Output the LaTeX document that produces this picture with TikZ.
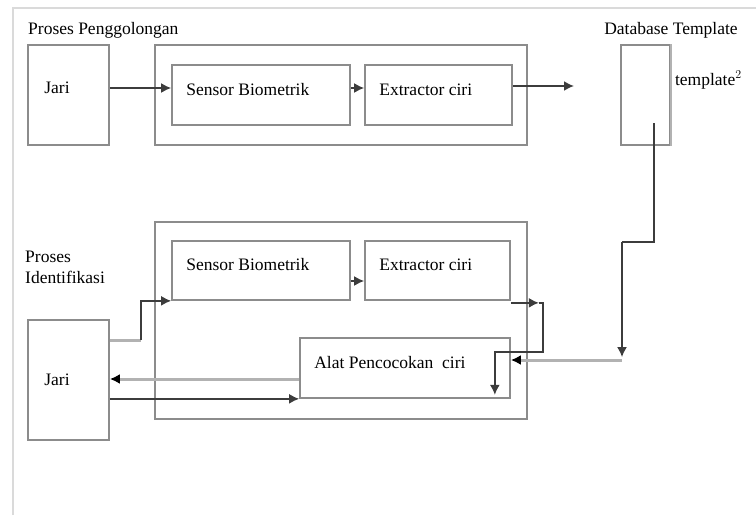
\documentclass[tikz,border=0pt]{standalone}
\usepackage{fontspec}
\setmainfont{Liberation Serif}
\usetikzlibrary{arrows.meta}
\definecolor{boxgray}{RGB}{140,140,140}
\definecolor{linedark}{RGB}{60,60,60}
\definecolor{linelight}{RGB}{178,178,178}
\definecolor{framegray}{RGB}{218,218,218}
\tikzset{
  blok/.style={draw=boxgray, line width=1.7pt, inner sep=0pt},
  tulisan/.style={anchor=west, inner sep=0pt, font=\fontsize{17.5}{21}\selectfont},
  darkarrow/.style={draw=linedark, line width=1.7pt, -{Latex[length=10pt,width=10pt]}},
  darkline/.style={draw=linedark, line width=1.7pt},
  lightarrow/.style={draw=linelight, line width=3pt, -{Latex[length=10pt,width=10pt,color=black]}},
  lightline/.style={draw=linelight, line width=3pt},
}
\begin{document}
\begin{tikzpicture}[x=1pt, y=-1pt, >=Latex]
  \useasboundingbox (0,0) rectangle (756,515);
  \draw[framegray, line width=1.2pt] (13,515) -- (13,8) -- (756,8);

  % proses penggolongan
  \node[tulisan] (judul1) at (28,30) {Proses Penggolongan};
  \node[blok, minimum width=81, minimum height=100] (jari1) at (68.5,95) {};
  \node[blok, minimum width=372, minimum height=100] (luar1) at (341,95) {};
  \node[blok, minimum width=178, minimum height=60] (sensor1) at (261,95) {};
  \node[blok, minimum width=147, minimum height=60] (ext1) at (438.5,95) {};
  \node[tulisan] (jari1t) at ([xshift=17pt,yshift=7pt]jari1.west) {Jari};
  \node[tulisan] (sensor1t) at ([xshift=15pt,yshift=5pt]sensor1.west) {Sensor Biometrik};
  \node[tulisan] (ext1t) at ([xshift=15pt,yshift=5pt]ext1.west) {Extractor ciri};

  % database
  \node[tulisan, anchor=center] (judul3) at (671,30) {Database Template};
  \node[blok, minimum width=49, minimum height=100] (db) at (645.5,95) {};
  \draw[linelight, line width=1.7pt] (db.north east) -- (db.south east);
  \node[tulisan] (dbt) at ([xshift=4pt,yshift=15pt]db.east) {template$^2$};
  \coordinate (dbin) at (574,86);
  \coordinate (dbsrc) at (654,123);
  \coordinate (dbbend) at (622,242);
  \coordinate (dbdown) at (622,357);
  \coordinate (dbout) at (622,360);

  \draw[darkarrow] ([yshift=7pt]jari1.east) -- ([yshift=7pt]sensor1.west);
  \draw[darkarrow] ([yshift=7pt]sensor1.east) -- ([yshift=7pt]ext1.west);
  \draw[darkarrow] ([yshift=9pt]ext1.east) -- (dbin);

  % proses identifikasi
  \node[tulisan, align=left] (judul2) at (25,267) {Proses\\Identifikasi};
  \node[blok, minimum width=81, minimum height=120] (jari2) at (68.5,380) {};
  \node[blok, minimum width=372, minimum height=197] (luar2) at (341,320.5) {};
  \node[blok, minimum width=178, minimum height=59] (sensor2) at (261,270.5) {};
  \node[blok, minimum width=145, minimum height=59] (ext2) at (437.5,270.5) {};
  \node[blok, minimum width=210, minimum height=60] (alat) at (405,368) {};
  \node[tulisan] (jari2t) at ([xshift=17pt]jari2.west) {Jari};
  \node[tulisan] (sensor2t) at ([xshift=15pt,yshift=5.5pt]sensor2.west) {Sensor Biometrik};
  \node[tulisan] (ext2t) at ([xshift=15pt,yshift=5.5pt]ext2.west) {Extractor ciri};
  \node[tulisan] (alatt) at ([xshift=15pt,yshift=5pt]alat.west) {Alat Pencocokan\ \ ciri};

  \draw[lightline] ([yshift=40pt]jari2.east) -- ++(31,0) coordinate (j2k);
  \draw[darkarrow] (j2k) |- (sensor2.south west);
  \draw[darkarrow] ([yshift=-10.5pt]sensor2.east) -- ([yshift=-10.5pt]ext2.west);
  \coordinate (e2a) at ([xshift=28pt,yshift=-2pt]ext2.south east);
  \draw[darkarrow] ([yshift=-2pt]ext2.south east) -- (e2a);
  \draw[darkarrow] (e2a) -- ++(4,0) -- ++(0,49) -| ([xshift=-16pt,yshift=4pt]alat.south east);
  \draw[lightarrow] ([yshift=-11pt]alat.west) -- ([yshift=-11pt]alat.west -| jari2.east);
  \draw[darkarrow] (jari2.east |- alat.south west) -- (alat.south west);

  \draw[darkline, line width=1.4pt] (dbsrc) |- (dbbend);
  \draw[darkarrow, line width=1.4pt] (dbbend) -- (dbdown);
  \draw[lightarrow] (dbout) -- ([yshift=8pt]alat.east);
\end{tikzpicture}
\end{document}
